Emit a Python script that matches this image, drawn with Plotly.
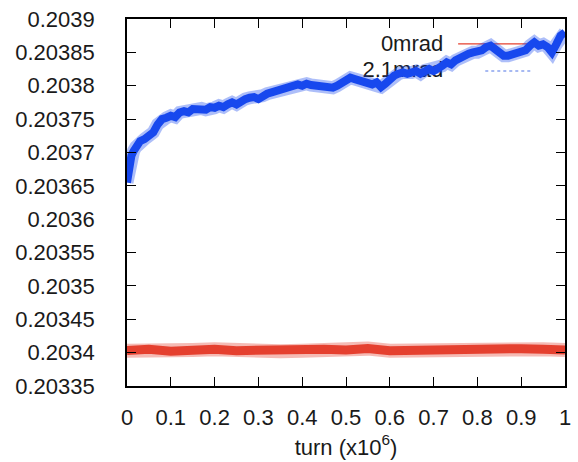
import plotly.graph_objects as go

# turn (x10^6)
turn_blue = [0.0, 0.005, 0.01, 0.015, 0.02] + [round(0.03 + 0.01 * i, 2) for i in range(98)]
tune_blue = [0.203655, 0.20368, 0.203695, 0.203702, 0.203708,
             0.203717, 0.20372, 0.203725, 0.20373, 0.203742, 0.20375, 0.203752, 0.203755,
             0.203753, 0.20376, 0.203762, 0.20376, 0.203765, 0.203764, 0.203766, 0.203764,
             0.203768, 0.203767, 0.20377, 0.203768, 0.203772, 0.203775, 0.203772, 0.203778,
             0.20378, 0.203782, 0.203783, 0.20378, 0.203785, 0.203788, 0.20379, 0.203792,
             0.203795, 0.203795, 0.203797, 0.2038, 0.203802, 0.2038, 0.203803, 0.203801,
             0.2038, 0.203802, 0.203798, 0.2038, 0.203797, 0.2038, 0.203805, 0.20381,
             0.203812, 0.20381, 0.203808, 0.203806, 0.203804, 0.203802, 0.203805, 0.203798,
             0.203803, 0.20381, 0.203815, 0.203818, 0.20382, 0.203818, 0.20382, 0.203822,
             0.203818, 0.203823, 0.203825, 0.203822, 0.203828, 0.20383, 0.203835, 0.203832,
             0.203838, 0.203842, 0.203845, 0.203848, 0.20385, 0.20385, 0.203853, 0.203858,
             0.20386, 0.203855, 0.203848, 0.203845, 0.203845, 0.203847, 0.20385, 0.20385,
             0.203853, 0.20386, 0.203865, 0.20386, 0.203862, 0.203858, 0.20385, 0.203862,
             0.203875, 0.20388]
turn_blue = turn_blue[:len(tune_blue)]

turn_red = [round(0.05 * i, 2) for i in range(21)]
tune_red = [0.203403, 0.203405, 0.203402, 0.203404, 0.203405, 0.203403, 0.203404,
            0.203402, 0.203403, 0.203405, 0.203404, 0.203406, 0.203403, 0.203404,
            0.203403, 0.203405, 0.203406, 0.203407, 0.203406, 0.203405, 0.203404]

x_ticks = [0, 0.1, 0.2, 0.3, 0.4, 0.5, 0.6, 0.7, 0.8, 0.9, 1]
x_labels = ["0", "0.1", "0.2", "0.3", "0.4", "0.5", "0.6", "0.7", "0.8", "0.9", "1"]
y_ticks = [0.20335, 0.2034, 0.20345, 0.2035, 0.20355, 0.2036, 0.20365, 0.2037,
           0.20375, 0.2038, 0.20385, 0.2039]
y_labels = ["0.20335", "0.2034", "0.20345", "0.2035", "0.20355", "0.2036", "0.20365",
            "0.2037", "0.20375", "0.2038", "0.20385", "0.2039"]
legend_names = ["0mrad", "2.1mrad"]

RED = "#e5402f"
BLUE = "#1748ee"
FONT = "Liberation Sans, Arial, sans-serif"
TXT = "#1a1a1a"
FS = 22

fig = go.Figure()

# legend labels (drawn beneath the data, like the original)
fig.add_trace(go.Scatter(x=[0.722, 0.722], y=[0.20386, 0.203821], mode="text",
                         text=legend_names, textposition="middle left",
                         textfont=dict(family=FONT, size=FS, color=TXT),
                         showlegend=False, hoverinfo="skip"))

# soft halo under each band, then the band itself
for xs, ys, col, w in [(turn_red, tune_red, RED, 9), (turn_blue, tune_blue, BLUE, 8)]:
    fig.add_trace(go.Scatter(x=xs, y=ys, mode="lines", opacity=0.35,
                             line=dict(color=col, width=w + 5), showlegend=False,
                             hoverinfo="skip"))
fig.add_trace(go.Scatter(x=turn_red, y=tune_red, mode="lines", name=legend_names[0],
                         line=dict(color=RED, width=9), showlegend=False))
fig.add_trace(go.Scatter(x=turn_blue, y=tune_blue, mode="lines", name=legend_names[1],
                         line=dict(color=BLUE, width=8), showlegend=False))

# legend samples
fig.add_shape(type="line", xref="paper", yref="paper", x0=0.756, x1=0.925, y0=0.932, y1=0.932,
              line=dict(color=RED, width=1.2), layer="below")
fig.add_shape(type="line", xref="paper", yref="paper", x0=0.818, x1=0.925, y0=0.858, y1=0.858,
              line=dict(color="#8aa3ee", width=1.5, dash="dot"), layer="below")

axis_common = dict(showline=True, linecolor="black", linewidth=1.6, mirror="allticks",
                   ticks="inside", ticklen=9, tickwidth=1.2, tickcolor="black",
                   showgrid=False, zeroline=False, automargin=False,
                   tickfont=dict(family=FONT, size=FS, color=TXT))

fig.update_xaxes(range=[0, 1], tickvals=x_ticks, ticktext=x_labels, ticklabelstandoff=11,
                 title=dict(text="turn (x10<sup>6</sup>)", standoff=10,
                            font=dict(family=FONT, size=FS, color=TXT)),
                 **axis_common)
fig.update_yaxes(range=[0.20335, 0.2039], tickvals=y_ticks, ticktext=y_labels,
                 ticklabelstandoff=26, **axis_common)

fig.update_layout(width=578, height=462, margin=dict(l=127, r=13, t=19, b=76),
                  paper_bgcolor="white", plot_bgcolor="white")

fig.write_html("out.html", config={"displayModeBar": False},
               post_script="document.body.style.margin='0';document.body.style.overflow='hidden';")
